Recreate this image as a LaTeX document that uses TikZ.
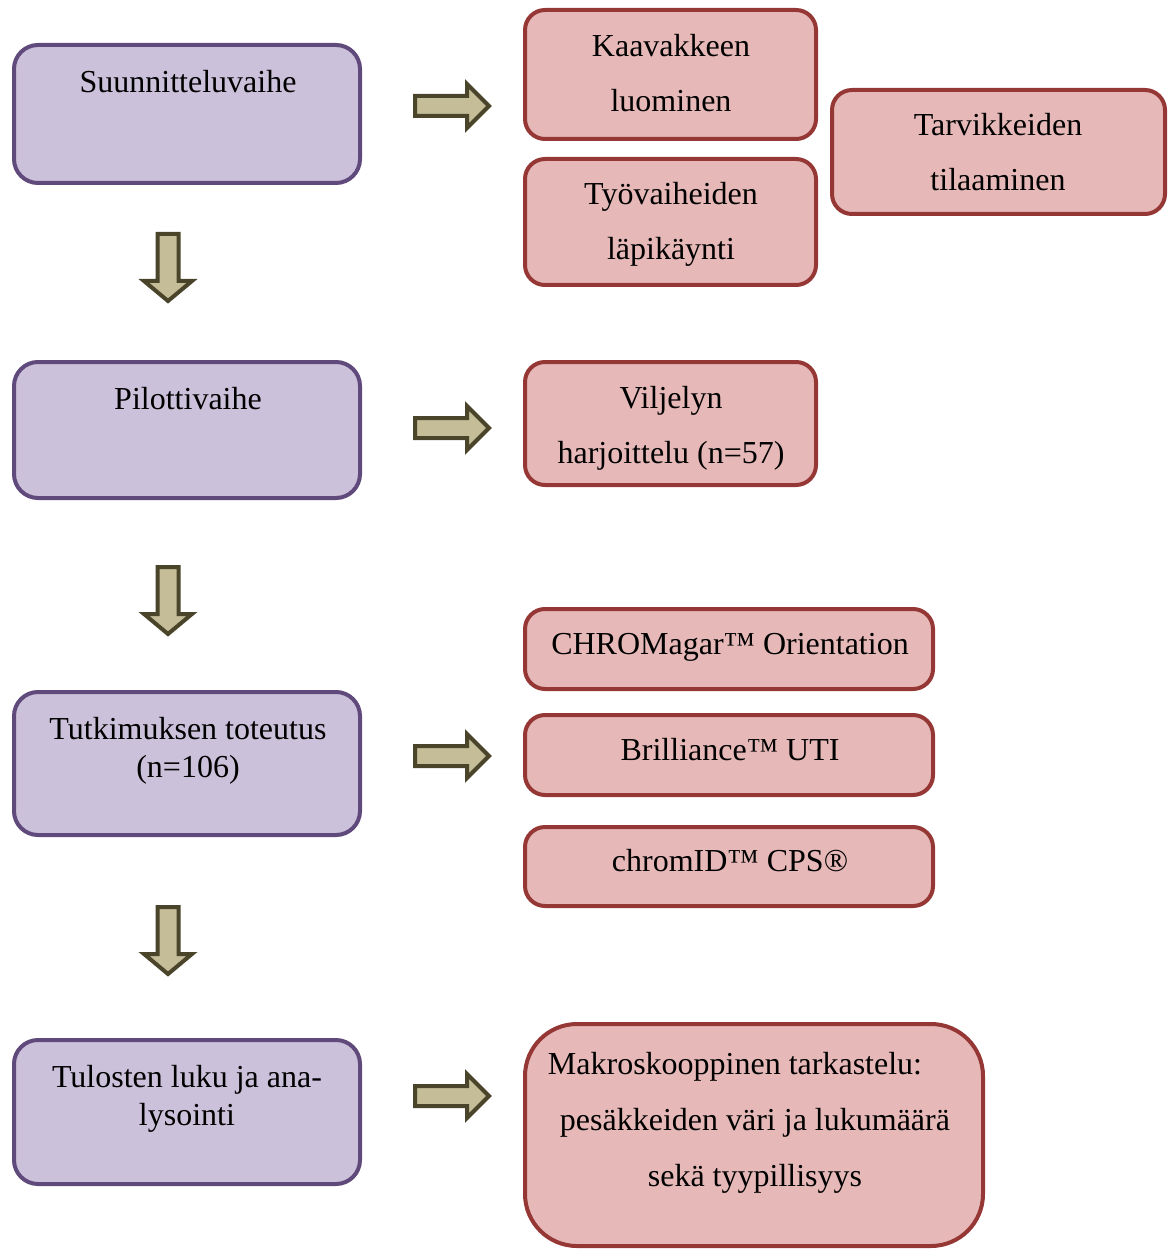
\documentclass[tikz,border=0pt]{standalone}
\usepackage{fontspec}
\setmainfont{Liberation Serif}
\definecolor{purplefill}{HTML}{CCC1DA}
\definecolor{purpleborder}{HTML}{604A7B}
\definecolor{redfill}{HTML}{E6B9B8}
\definecolor{redborder}{HTML}{953735}
\definecolor{arrowfill}{HTML}{C4BD97}
\definecolor{arrowborder}{HTML}{4A452A}
\newcommand\myRArrow[2]{%
  \draw[blockarrow] (#1+2,#2-10) -- (#1+54,#2-10) -- (#1+54,#2-22) -- (#1+76,#2)
    -- (#1+54,#2+22) -- (#1+54,#2+10) -- (#1+2,#2+10) -- cycle;}
\newcommand\myDArrow[2]{%
  \draw[blockarrow] (#1-10.5,#2+2) -- (#1+10.5,#2+2) -- (#1+10.5,#2+49) -- (#1+24,#2+49)
    -- (#1,#2+69) -- (#1-24,#2+49) -- (#1-10.5,#2+49) -- (#1-10.5,#2+2) -- cycle;}
\begin{document}
\begin{tikzpicture}[x=0.5pt,y=-0.5pt,
  pbox/.style={draw=purpleborder,fill=purplefill,line width=2pt,rounded corners=12pt,inner sep=0pt},
  rbox/.style={draw=redborder,fill=redfill,line width=2pt,rounded corners=10pt,inner sep=0pt},
  ptxt/.style={font=\fontsize{16}{19}\selectfont,inner sep=0pt,align=center,anchor=base},
  rtxt/.style={font=\fontsize{16}{27.5}\selectfont,inner sep=0pt,align=center,anchor=base},
  blockarrow/.style={draw=arrowborder,fill=arrowfill,line width=2pt,line join=miter}]
\useasboundingbox (0,0) rectangle (1171,1251);
% left column
\node[pbox,minimum width=173pt,minimum height=69pt] (b1) at (187,114) {};
\node[pbox,minimum width=173pt,minimum height=68pt] (b2) at (187,430) {};
\node[pbox,minimum width=173pt,minimum height=71.5pt] (b3) at (187,763.5) {};
\node[pbox,minimum width=173pt,minimum height=72pt] (b4) at (187,1112) {};
\node[ptxt] (b1t) at (188,93) {Suunnitteluvaihe};
\node[ptxt] (b2t) at (188,409) {Pilottivaihe};
\node[ptxt] (b3t) at (188,777) {Tutkimuksen toteutus\\(n=106)};
\node[ptxt] (b4t) at (187,1125) {Tulosten luku ja ana-\\lysointi};
% right column
\node[rbox,minimum width=145.5pt,minimum height=64.5pt] (r1) at (670.5,74.5) {};
\node[rbox,minimum width=145.5pt,minimum height=63pt] (r2) at (670.5,222) {};
\node[rbox,minimum width=166.5pt,minimum height=62pt] (r3) at (998.5,152) {};
\node[rbox,minimum width=145.5pt,minimum height=61.5pt] (r4) at (670.5,423.5) {};
\node[rbox,minimum width=204pt,minimum height=40pt] (r5) at (729,649) {};
\node[rbox,minimum width=204pt,minimum height=40pt] (r6) at (729,755) {};
\node[rbox,minimum width=204pt,minimum height=39.5pt] (r7) at (729,866.5) {};
\node[rbox,rounded corners=26pt,minimum width=229pt,minimum height=111pt] (r8) at (754,1135) {};
\node[rtxt] (r1t) at (671,112) {Kaavakkeen\\luominen};
\node[rtxt] (r2t) at (671,260) {Työvaiheiden\\läpikäynti};
\node[rtxt] (r3t) at (998,191) {Tarvikkeiden\\tilaaminen};
\node[rtxt] (r4t) at (671,463) {Viljelyn\\harjoittelu (n=57)};
\node[rtxt] (r5t) at (730,654) {CHROMagar™ Orientation};
\node[rtxt] (r6t) at (730,760) {Brilliance™ UTI};
\node[rtxt] (r7t) at (730,871) {chromID™ CPS®};
\node[rtxt,font=\fontsize{16}{28}\selectfont] (r8t) at (755,1186)
  {Makroskooppinen tarkastelu:\rule{20pt}{0pt}\\pesäkkeiden väri ja lukumäärä\\sekä tyypillisyys};
% arrows
\myRArrow{413}{106}
\myRArrow{413}{428}
\myRArrow{413}{756}
\myRArrow{413}{1096}
\myDArrow{168}{232}
\myDArrow{168}{565}
\myDArrow{168}{905}
\end{tikzpicture}
\end{document}
